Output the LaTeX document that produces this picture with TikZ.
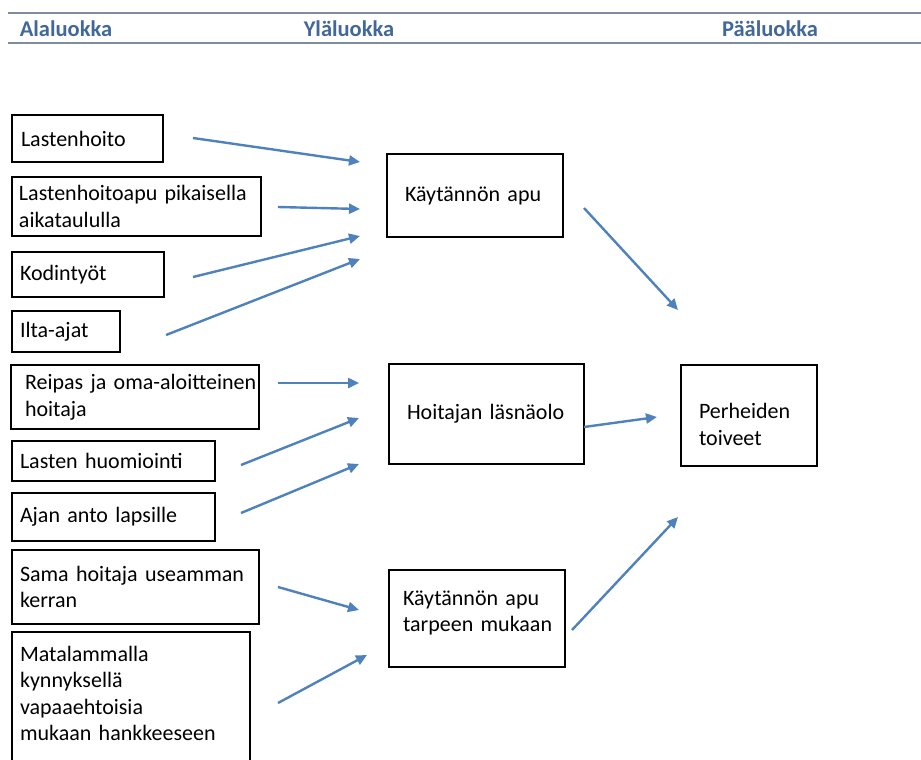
\documentclass[tikz,border=0pt]{standalone}
\usepackage{fontspec}
\setmainfont{Carlito}
\usepackage{tikz}
\usetikzlibrary{arrows.meta}
\definecolor{nuolivari}{RGB}{79,129,189}
\definecolor{otsikkovari}{RGB}{66,104,153}
\definecolor{viivavari}{RGB}{125,142,162}

\begin{document}
\begin{tikzpicture}[x=1pt,y=-1pt,
    laatikko/.style={draw,rectangle,line width=1.2pt,align=left,inner ysep=0pt,font=\fontsize{22}{26.5}\selectfont},
    otsikko/.style={text=otsikkovari,font=\bfseries\fontsize{22.5}{26}\selectfont},
    nuoli/.style={draw=nuolivari,line width=2.4pt,-{Triangle[length=11pt,width=10pt]}}]
            \useasboundingbox (0,0) rectangle (921,760);
            % otsikkorivi
            \draw [viivavari,line width=1.6pt] (8,13)--(921,13);
            \draw [viivavari,line width=1.6pt] (8,43)--(921,43);
            \node (alaluokka) at (66,29)[otsikko]{Alaluokka};
            \node (ylaluokka) at (349,29)[otsikko]{Yläluokka};
            \node (paaluokka) at (770,29)[otsikko]{Pääluokka};
            % alaluokat
            \node (lastenhoito) at (87.5,138.5)[laatikko,text width=133pt,inner xsep=9pt,minimum height=47pt]{Lastenhoito};
            \node (pikainen) at (136.5,206.5)[laatikko,text width=235pt,inner xsep=7pt,minimum height=59pt]{Lastenhoitoapu pikaisella\\aikataululla};
            \node (kodintyot) at (88,274.5)[laatikko,text width=136pt,inner xsep=8pt,minimum height=45pt]{Kodintyöt};
            \node (iltaajat) at (66,331.5)[laatikko,text width=92pt,inner xsep=8pt,minimum height=41pt]{Ilta-ajat};
            \node (reipas) at (135,397)[laatikko,text width=220pt,inner xsep=14pt,minimum height=64pt]{\mbox{Reipas ja oma-aloitteinen}\\hoitaja};
            \node (huomiointi) at (113.5,461)[laatikko,text width=187pt,inner xsep=8pt,minimum height=40pt]{Lasten huomiointi};
            \node (ajananto) at (113.5,517)[laatikko,text width=187pt,inner xsep=8pt,minimum height=48pt]{Ajan anto lapsille};
            \node (sama) at (135.5,587)[laatikko,text width=231pt,inner xsep=8pt,minimum height=74pt]{Sama hoitaja useamman\\kerran};
            \node (matala) at (131,698)[laatikko,text width=222pt,inner xsep=8pt,minimum height=132pt,text depth=89pt]{Matalammalla\\kynnyksellä\\vapaaehtoisia\\mukaan hankkeeseen};
            % ylaluokat ja paaluokka
            \node (apu) at (475,195.5)[laatikko,text width=140pt,inner xsep=18pt,minimum height=83pt]{Käytännön apu};
            \node (lasnaolo) at (486.5,414)[laatikko,text width=159pt,inner xsep=18pt,minimum height=100pt]{Hoitajan läsnäolo};
            \node (tarve) at (477,618.5)[laatikko,text width=148pt,inner xsep=14pt,minimum height=97pt,text depth=41pt]{Käytännön apu\\\mbox{tarpeen mukaan}};
            \node (toiveet) at (749,415.5)[laatikko,text width=100pt,inner xsep=18pt,minimum height=101pt,text height=33pt]{Perheiden\\toiveet};
            % nuolten paat
            \coordinate (a1) at (193,138);  \coordinate (b1) at (360,162);
            \coordinate (a2) at (278,207);  \coordinate (b2) at (360,209);
            \coordinate (a3) at (193,277);  \coordinate (b3) at (360,236);
            \coordinate (a4) at (166,335);  \coordinate (b4) at (360,259);
            \coordinate (a5) at (278,383);  \coordinate (b5) at (359,383);
            \coordinate (a6) at (241,465);  \coordinate (b6) at (359,418);
            \coordinate (a7) at (241,513);  \coordinate (b7) at (359,464);
            \coordinate (a8) at (278,587);  \coordinate (b8) at (359,610);
            \coordinate (a9) at (278,703);  \coordinate (b9) at (367,655);
            \coordinate (a10) at (584,208); \coordinate (b10) at (678,310);
            \coordinate (a11) at (584,427); \coordinate (b11) at (657,417);
            \coordinate (a12) at (572,630); \coordinate (b12) at (678,517);
            \draw [nuoli] (a1)--(b1);
            \draw [nuoli] (a2)--(b2);
            \draw [nuoli] (a3)--(b3);
            \draw [nuoli] (a4)--(b4);
            \draw [nuoli] (a5)--(b5);
            \draw [nuoli] (a6)--(b6);
            \draw [nuoli] (a7)--(b7);
            \draw [nuoli] (a8)--(b8);
            \draw [nuoli] (a9)--(b9);
            \draw [nuoli] (a10)--(b10);
            \draw [nuoli] (a11)--(b11);
            \draw [nuoli] (a12)--(b12);
        \end{tikzpicture}
\end{document}
